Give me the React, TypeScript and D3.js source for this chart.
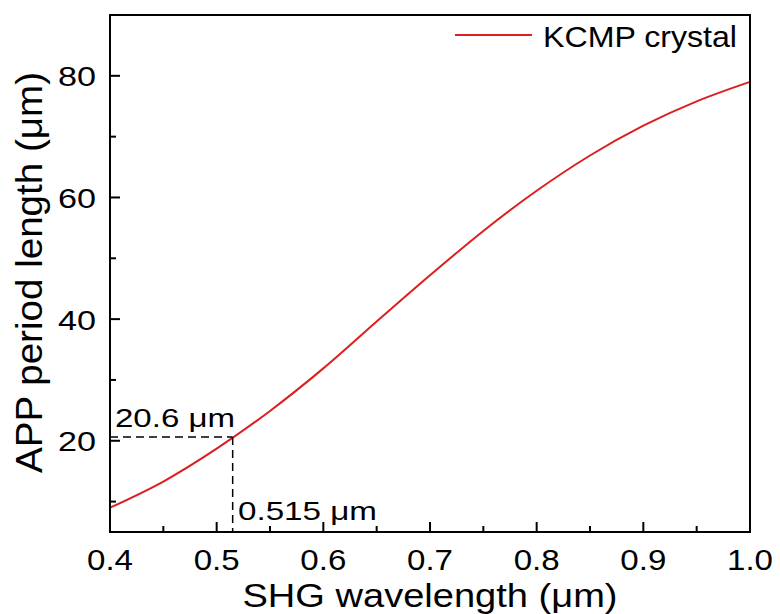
import React from "react";
import * as d3 from "d3";

const wavelength = [0.40, 0.45, 0.50, 0.55, 0.60, 0.65, 0.70, 0.75, 0.80, 0.85, 0.90, 0.95, 1.00];
const period = [9.0, 13.3, 18.7, 24.9, 31.9, 39.6, 47.2, 54.5, 61.1, 66.9, 71.8, 75.8, 79.0];
const xTicks = [0.4, 0.5, 0.6, 0.7, 0.8, 0.9, 1.0];
const xMinor = [0.45, 0.55, 0.65, 0.75, 0.85, 0.95];
const yTicks = [20, 40, 60, 80];
const yMinor = [10, 30, 50, 70, 90];
const markX = 0.515;
const markY = 20.6;

const W = 780, H = 614;
const L = 110, R = 750, T = 15, B = 532;
const FONT = "'Liberation Sans', Arial, sans-serif";

export default function App() {
  const x = d3.scaleLinear().domain([0.4, 1.0]).range([L, R]);
  const y = d3.scaleLinear().domain([5, 90]).range([B, T]);
  const line = d3.line<number>()
    .x((_, i) => x(wavelength[i]))
    .y((d) => y(d))
    .curve(d3.curveMonotoneX);

  return (
    <svg width={W} height={H} style={{ position: "absolute", left: 0, top: 0, background: "#fff" }}
      fontFamily={FONT}>
      <rect x={0} y={0} width={W} height={H} fill="#fff" />
      <path d={line(period) || ""} fill="none" stroke="#dc1e1e" strokeWidth={2} />
      <line x1={L} x2={x(markX)} y1={y(markY)} y2={y(markY)} stroke="#000" strokeWidth={1.5} strokeDasharray="8,5" />
      <line x1={x(markX)} x2={x(markX)} y1={y(markY)} y2={B} stroke="#000" strokeWidth={1.5} strokeDasharray="8,5" />
      <text x={115} y={427} fontSize={26} textLength={120} lengthAdjust="spacingAndGlyphs">20.6 μm</text>
      <text x={238} y={520} fontSize={26} textLength={139} lengthAdjust="spacingAndGlyphs">0.515 μm</text>
      {xTicks.map((t) => (
        <g key={"xt" + t}>
          <line x1={x(t)} x2={x(t)} y1={B} y2={B - 10} stroke="#000" strokeWidth={2} />
          <text x={x(t)} y={570} fontSize={29} textAnchor="middle" textLength={46} lengthAdjust="spacingAndGlyphs">
            {t.toFixed(1)}
          </text>
        </g>
      ))}
      {xMinor.map((t) => (
        <line key={"xm" + t} x1={x(t)} x2={x(t)} y1={B} y2={B - 6} stroke="#000" strokeWidth={2} />
      ))}
      {yTicks.map((t) => (
        <g key={"yt" + t}>
          <line x1={L} x2={L + 10} y1={y(t)} y2={y(t)} stroke="#000" strokeWidth={2} />
          <text x={96} y={y(t) + 10.5} fontSize={28} textAnchor="end" textLength={38} lengthAdjust="spacingAndGlyphs">
            {t}
          </text>
        </g>
      ))}
      {yMinor.map((t) => (
        <line key={"ym" + t} x1={L} x2={L + 6} y1={y(t)} y2={y(t)} stroke="#000" strokeWidth={2} />
      ))}
      <rect x={L} y={T} width={R - L} height={B - T} fill="none" stroke="#000" strokeWidth={2} />
      <line x1={455} x2={532} y1={35} y2={35} stroke="#dc1e1e" strokeWidth={2} />
      <text x={543} y={47} fontSize={30} textLength={194} lengthAdjust="spacingAndGlyphs">KCMP crystal</text>
      <text x={(L + R) / 2} y={607} fontSize={34} textAnchor="middle" textLength={375} lengthAdjust="spacingAndGlyphs">
        SHG wavelength (μm)
      </text>
      <text transform={`translate(42, ${(72 + 473) / 2}) rotate(-90)`} fontSize={37} textAnchor="middle"
        textLength={401} lengthAdjust="spacingAndGlyphs">
        APP period length (μm)
      </text>
    </svg>
  );
}
